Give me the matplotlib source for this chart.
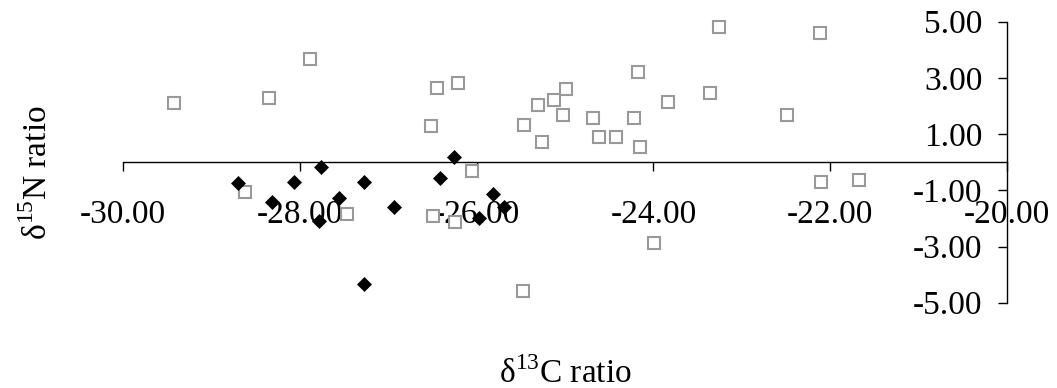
import matplotlib
matplotlib.use("Agg")
import matplotlib.pyplot as plt
from matplotlib.ticker import FormatStrFormatter

plt.rcParams['font.family'] = ['Liberation Serif', 'DejaVu Serif']
plt.rcParams['mathtext.fontset'] = 'custom'
plt.rcParams['mathtext.rm'] = 'Liberation Serif'
plt.rcParams['axes.unicode_minus'] = False

# open grey squares
sq_c13 = [-29.42, -28.35, -27.88, -26.45, -26.21, -26.52, -25.31, -25.46, -25.26,
          -25.13, -24.99, -25.02, -24.68, -24.62, -24.42, -24.22, -24.17, -24.15,
          -23.84, -23.36, -23.26, -22.49, -22.12, -22.10, -21.67, -26.05, -28.62,
          -27.47, -26.49, -26.25, -25.47, -23.99]
sq_n15 = [2.09, 2.30, 3.68, 2.65, 2.82, 1.28, 2.03, 1.34, 0.71,
          2.21, 2.60, 1.68, 1.58, 0.89, 0.89, 1.58, 3.22, 0.54,
          2.14, 2.48, 4.81, 1.68, 4.59, -0.70, -0.65, -0.31, -1.06,
          -1.85, -1.91, -2.14, -4.58, -2.86]

# filled black diamonds
dm_c13 = [-28.70, -28.07, -27.76, -28.32, -27.56, -27.78, -27.27, -26.93, -27.27,
          -26.41, -26.26, -25.81, -25.97, -25.69]
dm_n15 = [-0.73, -0.69, -0.17, -1.41, -1.26, -2.08, -0.69, -1.59, -4.33,
          -0.57, 0.19, -1.12, -1.99, -1.59]

x_ticks = [-30, -28, -26, -24, -22, -20]
y_ticks = [-5, -3, -1, 1, 3, 5]

fig = plt.figure(figsize=(10.57, 3.88), dpi=100)
ax = fig.add_axes([123 / 1057, 1 - 302.7 / 388, (1007 - 123) / 1057, (302.7 - 21.7) / 388])

ax.plot(sq_c13, sq_n15, linestyle='none', marker='s', markersize=8.2, clip_on=False,
        markerfacecolor='white', markeredgecolor='#999999', markeredgewidth=1.5)
ax.plot(dm_c13, dm_n15, linestyle='none', marker='D', markersize=7.2, clip_on=False,
        markerfacecolor='black', markeredgecolor='black', markeredgewidth=0.5)

ax.set_xlim(-30, -20)
ax.set_ylim(-5, 5)

ax.spines['left'].set_position(('data', -20))
ax.spines['bottom'].set_position(('data', 0))
ax.spines['top'].set_visible(False)
ax.spines['right'].set_visible(False)
for s in ('left', 'bottom'):
    ax.spines[s].set_linewidth(1.0)

ax.set_xticks(x_ticks)
ax.set_yticks(y_ticks)
ax.xaxis.set_major_formatter(FormatStrFormatter('%.2f'))
ax.yaxis.set_major_formatter(FormatStrFormatter('%.2f'))
ax.tick_params(axis='x', direction='out', length=6.5, width=1, pad=20, labelsize=24)
ax.tick_params(axis='y', direction='out', length=6.5, width=1, pad=11, labelsize=24)

fig.text(0.5345, 1 - 383 / 388, 'δ$^{\\mathrm{13}}$C ratio', fontsize=24,
         ha='center', va='baseline')
fig.text(0.036, 1 - 173 / 388, 'δ$^{\\mathrm{15}}$N ratio', fontsize=24,
         ha='center', va='center', rotation=90)

fig.savefig('out.png', dpi=100)
